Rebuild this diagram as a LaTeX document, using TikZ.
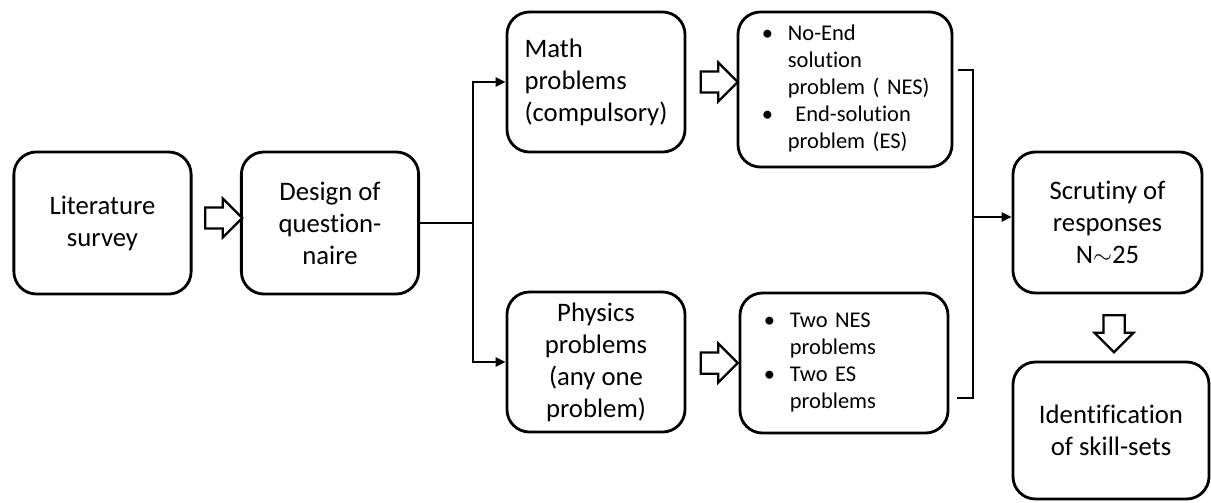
\documentclass[tikz,border=0pt]{standalone}
\usepackage{fontspec}
\setmainfont{Carlito}[Ligatures=NoCommon]
\usetikzlibrary{arrows.meta,shapes.arrows,positioning}

\begin{document}
\begin{tikzpicture}[x=0.025cm, y=-0.025cm,
  font=\fontsize{19}{22.8}\selectfont, line width=1.2pt,
  box/.style={draw, line width=2pt, rounded corners=16pt, align=center, inner sep=2pt,
              minimum width=4.43cm, minimum height=3.55cm},
  lbox/.style={box, font=\fontsize{16}{19.2}\selectfont, align=left, inner xsep=0pt},
  harrow/.style={single arrow, draw, line width=1.6pt, fill=white, inner xsep=0pt, inner ysep=6.75pt,
                 minimum height=26.3pt, single arrow head extend=6.4pt},
  arr/.style={-{Triangle[length=7pt,width=6.5pt]}}]
\useasboundingbox (0,0) rectangle (1211,502);
% ---------- first row
\node[box] (lit) at (102.5,223) {Literature\\survey};
\node[box] (des) at (330,223) {Design of\\question-\\naire};
% ---------- problem types
\node[box, align=left, minimum width=4.45cm, minimum height=3.5cm] (math) at (596,82) {Math\\problems\\(compulsory)};
\node[box, minimum width=4.45cm, minimum height=3.5cm] (phy) at (596,362) {Physics\\problems\\(any one\\problem)};
% ---------- problem lists
\node[lbox, text width=5.35cm, minimum width=5.35cm, minimum height=3.875cm] (nes) at (845,89.5)
  {\begin{tabular}{@{\hspace{17pt}}p{18.5pt}@{}l@{}}
   \textbullet & No-End\\ & solution\\ & problem ( NES)\\ \textbullet & \ End-solution\\ & problem (ES)
   \end{tabular}};
\node[lbox, text width=5.2cm, minimum width=5.2cm, minimum height=3.5cm] (two) at (844,363)
  {\begin{tabular}{@{\hspace{17pt}}p{18.5pt}@{}l@{}}
   \textbullet & Two NES\\ & problems\\ \textbullet & Two ES\\ & problems
   \end{tabular}};
% ---------- results
\node[box, minimum width=4.725cm, minimum height=3.525cm] (scr) at (1107.5,222.5) {Scrutiny of\\responses\\N$\sim$25};
\node[box, minimum width=4.9cm, minimum height=3.425cm] (idn) at (1111,430.5) {Identification\\of skill-sets};
% ---------- hollow arrows
\node[harrow] (h1) at (218.5,218) {};
\node[harrow] (h2) at (714,82) {};
\node[harrow] (h3) at (714,363) {};
\node[harrow, rotate=-90] (h4) at (1114,328.5) {};
% ---------- edges
\coordinate (split) at (473,223);
\draw (des.east) -- (split);
\draw[arr] (split) |- (math.west);
\draw[arr] (split) |- (phy.west);
\coordinate (btop) at (958,70);
\coordinate (bbot) at (957,398);
\coordinate (bmid) at (973,217);
\draw (btop) -| (bmid) |- (bbot);
\draw[arr] (bmid) -- (scr.west|-bmid);
\end{tikzpicture}
\end{document}
